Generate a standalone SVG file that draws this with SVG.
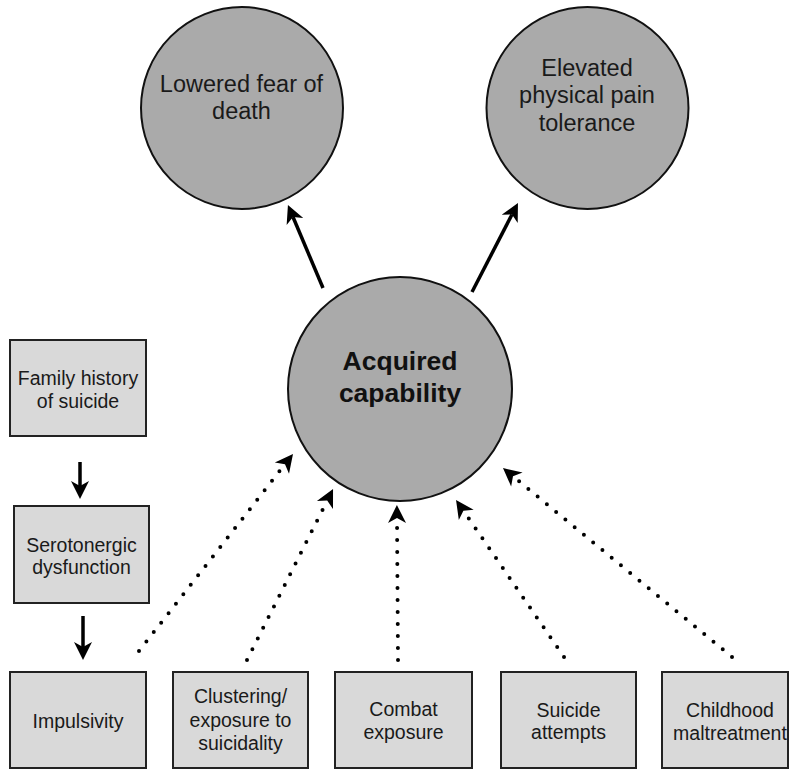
<svg xmlns="http://www.w3.org/2000/svg" width="789" height="769" viewBox="0 0 789 769">
<style>
.bg{fill:#ffffff}
.circ{fill:#aaaaaa;stroke:#111;stroke-width:2}
.box{fill:#d9d9d9;stroke:#222;stroke-width:2}
.t{font-family:"Liberation Sans",Arial,Helvetica,sans-serif;fill:#1a1a1a;text-anchor:middle}
.tc{font-size:23.5px}
.tb{font-size:19.5px}
.tm{font-size:26.5px;font-weight:bold;fill:#111}
.solid{stroke:#000;stroke-width:3.5;fill:none;marker-end:url(#ah)}
.dot{stroke:#000;stroke-width:4;stroke-dasharray:0 12;stroke-linecap:round;fill:none;marker-end:url(#ah)}
</style>
<defs>
<marker id="ah" markerUnits="userSpaceOnUse" markerWidth="30" markerHeight="30" viewBox="-10 -15 30 30" refX="0" refY="0" orient="auto">
<path d="M13,0 L-5,-9 L0,0 L-5,9 Z" fill="#000"/>
</marker>
</defs>
<rect class="bg" x="0" y="0" width="789" height="769"/>
<g id="connectors">
<line class="solid" x1="323" y1="288" x2="293" y2="217"/>
<line class="solid" x1="472" y1="292" x2="512" y2="214.5"/>
<line class="solid" x1="80" y1="462" x2="80" y2="486"/>
<line class="solid" x1="83" y1="616" x2="83" y2="647"/>
<line class="dot" x1="139" y1="651" x2="285" y2="464.2"/>
<line class="dot" x1="247" y1="660" x2="327.2" y2="500.6"/>
<line class="dot" x1="398" y1="660" x2="397" y2="518"/>
<line class="dot" x1="564" y1="657" x2="463.4" y2="510.7"/>
<line class="dot" x1="732" y1="657" x2="513" y2="476.3"/>
</g>
<g id="lowered-fear">
<circle class="circ" cx="242" cy="108" r="101"/>
<text class="t tc" x="241.5" y="92">Lowered fear of</text>
<text class="t tc" x="241.5" y="119">death</text>
</g>
<g id="elevated-pain">
<circle class="circ" cx="587.5" cy="108" r="101"/>
<text class="t tc" x="587" y="76">Elevated</text>
<text class="t tc" x="587" y="103">physical pain</text>
<text class="t tc" x="587" y="131">tolerance</text>
</g>
<g id="acquired-capability">
<circle class="circ" cx="400" cy="389" r="112"/>
<text class="t tm" x="400" y="369.5">Acquired</text>
<text class="t tm" x="400" y="401.5">capability</text>
</g>
<g id="family-history">
<rect class="box" x="10" y="340" width="136" height="96"/>
<text class="t tb" x="78" y="385">Family history</text>
<text class="t tb" x="78" y="407.5">of suicide</text>
</g>
<g id="serotonergic">
<rect class="box" x="14" y="506" width="135" height="97"/>
<text class="t tb" x="81.5" y="551.5">Serotonergic</text>
<text class="t tb" x="81.5" y="573.5">dysfunction</text>
</g>
<g id="impulsivity">
<rect class="box" x="10" y="672" width="136" height="96"/>
<text class="t tb" x="78" y="728">Impulsivity</text>
</g>
<g id="clustering">
<rect class="box" x="173" y="672" width="135" height="96"/>
<text class="t tb" x="240.5" y="703">Clustering/</text>
<text class="t tb" x="240.5" y="726.5">exposure to</text>
<text class="t tb" x="240.5" y="750">suicidality</text>
</g>
<g id="combat">
<rect class="box" x="335" y="672" width="137" height="96"/>
<text class="t tb" x="403.5" y="716">Combat</text>
<text class="t tb" x="403.5" y="739">exposure</text>
</g>
<g id="suicide-attempts">
<rect class="box" x="501" y="672" width="135" height="96"/>
<text class="t tb" x="568.5" y="717">Suicide</text>
<text class="t tb" x="568.5" y="739">attempts</text>
</g>
<g id="childhood">
<rect class="box" x="662" y="672" width="126" height="96"/>
<text class="t tb" x="730" y="717">Childhood</text>
<text class="t tb" x="730" y="740">maltreatment</text>
</g>
</svg>
